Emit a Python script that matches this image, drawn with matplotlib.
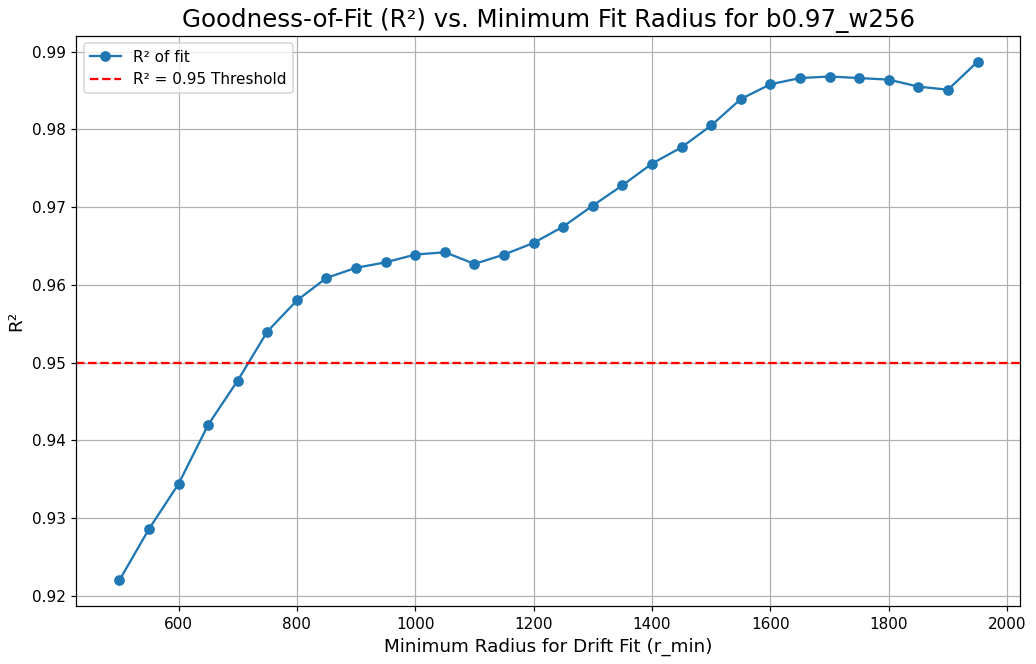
import matplotlib
matplotlib.use("Agg")
import matplotlib.pyplot as plt

r_min = list(range(500, 2000, 50))
r2 = [0.9220, 0.9286, 0.9344, 0.9420, 0.9477, 0.9540, 0.9580, 0.9609, 0.9622, 0.9629,
      0.9639, 0.9642, 0.9627, 0.9639, 0.9654, 0.9675, 0.9702, 0.9728, 0.9756, 0.9777,
      0.9805, 0.9839, 0.9858, 0.9866, 0.9868, 0.9866, 0.9864, 0.9855, 0.9851, 0.9887]
threshold = 0.95

fig, ax = plt.subplots(figsize=(1036 / 110, 664 / 110), dpi=110)
ax.plot(r_min, r2, marker='o', linestyle='-', label='R² of fit')
ax.axhline(threshold, color='r', linestyle='--', label='R² = 0.95 Threshold')
ax.set_title('Goodness-of-Fit (R²) vs. Minimum Fit Radius for b0.97_w256', fontsize=16)
ax.set_xlabel('Minimum Radius for Drift Fit (r_min)', fontsize=12)
ax.set_ylabel('R²', fontsize=12)
ax.grid(True)
ax.legend(loc='upper left')
fig.tight_layout(pad=0.5)
fig.savefig('out.png')
